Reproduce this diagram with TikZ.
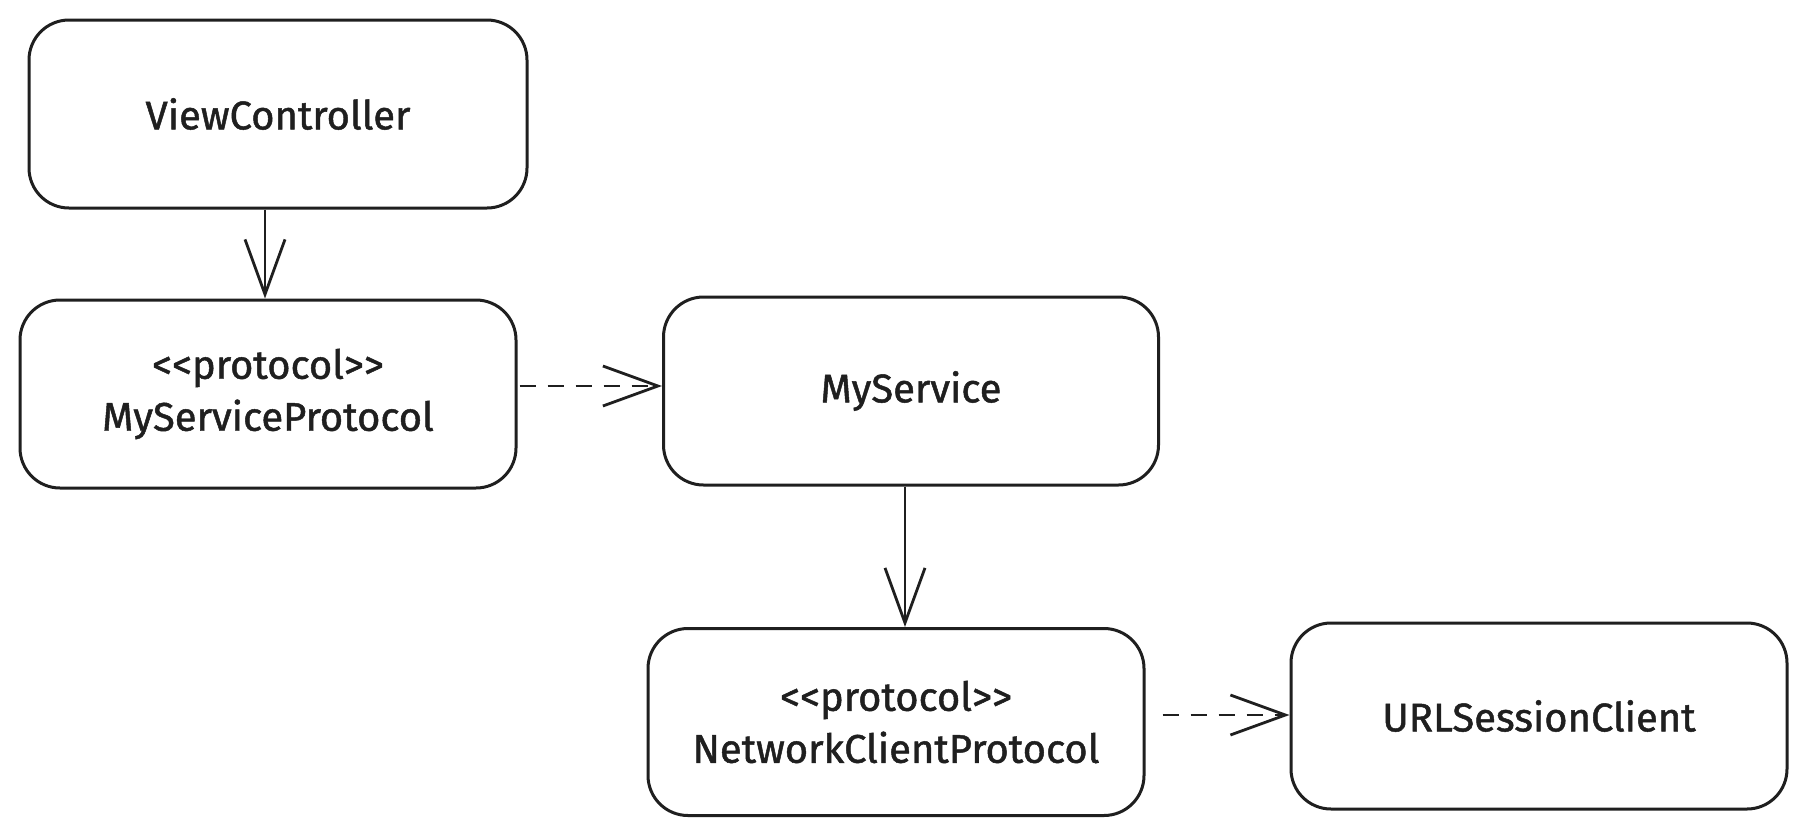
\documentclass[tikz,border=0pt]{standalone}
\usepackage{fontspec}
\setmainfont{Fira Sans}
\newfontfamily\handfont{Fira Sans}[FakeBold=1.2]
\usetikzlibrary{arrows.meta}
\tikzset{
  box/.style={draw=black!88, line width=3pt, rounded corners=40pt, fill=white,
    align=center, inner sep=0pt, font=\handfont\fontsize{40}{52}\selectfont, text=black!88},
  conn/.style={draw=black!88, line width=2.8pt,
    -{Straight Barb[length=55pt,width=40pt,line width=2.8pt]}},
  dconn/.style={conn, dash pattern=on 16pt off 12pt}
}
\begin{document}
\begin{tikzpicture}[x=1pt,y=-1pt]
\useasboundingbox[fill=white] (0,0) rectangle (1808,836);
\node[box, minimum width=498pt, minimum height=188pt] (vc) at (278,114) {ViewController};
\node[box, minimum width=496pt, minimum height=188pt] (msp) at (268,394) {<{}<protocol>{}>\\MyServiceProtocol};
\node[box, minimum width=495pt, minimum height=188pt] (ms) at (911,391) {MyService};
\node[box, minimum width=496pt, minimum height=187pt] (ncp) at (896,722) {<{}<protocol>{}>\\NetworkClientProtocol};
\node[box, minimum width=496pt, minimum height=186pt] (url) at (1539,716) {URLSessionClient};
\draw[conn] ([xshift=-13pt]vc.south) -- ([xshift=-13pt]vc.south |- msp.north);
\draw[dconn] ([xshift=2pt,yshift=8pt]msp.east) -- ([yshift=8pt]msp.east -| ms.west);
\draw[conn] ([xshift=-6pt]ms.south) -- ([xshift=-6pt]ms.south |- ncp.north);
\draw[dconn] ([xshift=17pt,yshift=7pt]ncp.east) -- ([yshift=7pt]ncp.east -| url.west);
\end{tikzpicture}
\end{document}
